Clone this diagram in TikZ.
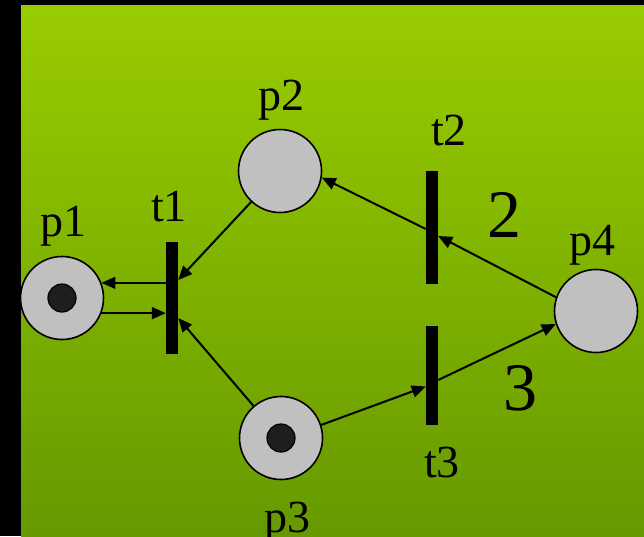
\documentclass[tikz,border=0pt]{standalone}
\usepackage{fontspec}
\setmainfont{Liberation Serif}
\usetikzlibrary{arrows.meta}
\definecolor{gtop}{HTML}{99CC00}
\definecolor{gbot}{HTML}{669900}
\definecolor{placefill}{HTML}{C0C0C0}
\definecolor{tokenfill}{HTML}{1E1E1E}
\begin{document}
\begin{tikzpicture}[x=1pt,y=-1pt,
  place/.style={circle,draw=black,line width=1.6pt,fill=placefill,minimum size=83pt,inner sep=0pt},
  token/.style={circle,draw=black,line width=1.2pt,fill=tokenfill,minimum size=28pt,inner sep=0pt},
  trans/.style={rectangle,fill=black,minimum width=12pt,inner sep=0pt},
  arc/.style={line width=2pt,-{Triangle[length=14pt,width=12pt]}},
  lbl/.style={anchor=base,inner sep=0pt,font=\fontsize{46}{50}\selectfont},
  wt/.style={anchor=base,inner sep=0pt,font=\fontsize{68}{72}\selectfont}]
\useasboundingbox (0,0) rectangle (644,536);
\fill[black] (0,0) rectangle (644,536);
\shade[top color=gtop,bottom color=gbot] (21,5) rectangle (644,536);
% places
\node[place] (p1) at (62,298) {};
\node[token] (k1) at (62,298) {};
\node[place] (p2) at (280,171) {};
\node[place] (p3) at (281,438) {};
\node[token] (k3) at (281,438) {};
\node[place] (p4) at (596,311) {};
% transitions
\node[trans,minimum height=112pt] (t1) at (172,298) {};
\node[trans,minimum height=113pt] (t2) at (432,227) {};
\node[trans,minimum height=99pt] (t3) at (432,375.5) {};
% arcs
\draw[arc] (t1.west |- p1.21) -- (p1.21);
\draw[arc] (p1.-21) -- (t1.west |- p1.-21);
\draw[arc] (p2) -- ([yshift=18pt]t1.east);
\draw[arc] (p3) -- ([yshift=-20pt]t1.east);
\draw[arc] (p4.161) -- ([yshift=-9pt]t2.east);
\draw[arc] ([yshift=-2pt]t2.west) -- (p2.-9);
\draw[arc] (p3.18) -- ([yshift=-11pt]t3.west);
\draw[arc] ([yshift=-4.5pt]t3.east) -- (p4.198);
% labels
\node[lbl] (lp1) at (63,236) {p1};
\node[lbl] (lp2) at (281,110) {p2};
\node[lbl] (lp3) at (287,532) {p3};
\node[lbl] (lp4) at (592,255) {p4};
\node[lbl] (lt1) at (169,221) {t1};
\node[lbl] (lt2) at (449,145) {t2};
\node[lbl] (lt3) at (442,477) {t3};
\node[wt] (w2) at (504,237) {2};
\node[wt] (w3) at (520,410) {3};
\end{tikzpicture}
\end{document}
